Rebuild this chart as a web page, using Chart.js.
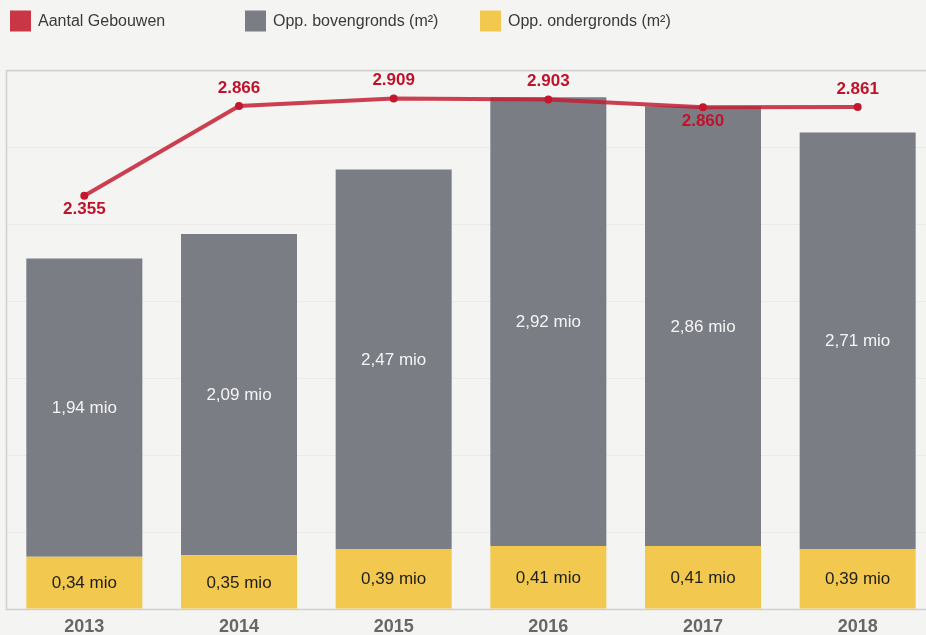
<!DOCTYPE html>
<html>
<head>
<meta charset="utf-8">
<script src="https://cdn.jsdelivr.net/npm/chart.js@4.4.1/dist/chart.umd.min.js"></script>
<style>
  html, body { margin:0; padding:0; background:#f4f4f2; overflow:hidden; width:926px; height:635px; }
  #wrap { position:absolute; left:0; top:0; width:942px; height:645px; }
</style>
</head>
<body>
<div id="wrap"><canvas id="c"></canvas></div>
<script>
const years = ['2013', '2014', '2015', '2016', '2017', '2018'];
const aantalGebouwen = [2355, 2866, 2909, 2903, 2860, 2861];
const oppBovengronds = [1.94, 2.09, 2.47, 2.92, 2.86, 2.71];   // mio m²
const oppOndergronds = [0.34, 0.35, 0.39, 0.41, 0.41, 0.39];   // mio m²
const legendLabels = ['Aantal Gebouwen', 'Opp. bovengronds (m²)', 'Opp. ondergronds (m²)'];

const RED_LINE = 'rgba(196, 30, 52, 0.85)';
const RED_BOX = '#c93746';
const RED_PT = '#c3172d';
const RED_TXT = '#c1122b';
const GREY = '#7b7d85';
const YELLOW = '#f2c94e';
const FONT = "'Liberation Sans', Arial, sans-serif";

function fmtThousands(v) {
  const s = String(Math.round(v));
  return s.replace(/\B(?=(\d{3})+(?!\d))/g, '.');
}
function fmtMio(v) {
  return v.toFixed(2).replace('.', ',') + ' mio';
}

const framePlugin = {
  id: 'frame',
  beforeDraw(chart) {
    const ctx = chart.ctx;
    ctx.save();
    ctx.fillStyle = '#f4f4f2';
    ctx.fillRect(0, 0, chart.width, chart.height);
    ctx.restore();
  },
  beforeDatasetsDraw(chart) {
    const a = chart.chartArea, ctx = chart.ctx;
    ctx.save();
    ctx.strokeStyle = '#cfcfcd';
    ctx.lineWidth = 1.5;
    ctx.strokeRect(a.left - 0.5, a.top - 0.5, a.right - a.left + 1, a.bottom - a.top + 1);
    ctx.restore();
  }
};

const legendPlugin = {
  id: 'fixedLegend',
  afterDraw(chart, args, opts) {
    const ctx = chart.ctx;
    const colors = [RED_BOX, GREY, YELLOW];
    ctx.save();
    ctx.font = '16px ' + FONT;
    ctx.textBaseline = 'middle';
    ctx.textAlign = 'left';
    legendLabels.forEach((lab, i) => {
      const x = opts.x0 + i * opts.colWidth;
      ctx.fillStyle = colors[i];
      ctx.fillRect(x, opts.y - opts.box / 2, opts.box, opts.box);
      ctx.fillStyle = '#3a3a3a';
      ctx.fillText(lab, x + opts.box + 7, opts.y + 1);
    });
    ctx.restore();
  }
};

const labelPlugin = {
  id: 'valueLabels',
  afterDatasetsDraw(chart, args, opts) {
    const ctx = chart.ctx;
    ctx.save();
    ctx.textAlign = 'center';
    ctx.textBaseline = 'middle';
    chart.data.datasets.forEach((ds, di) => {
      const meta = chart.getDatasetMeta(di);
      if (ds.type === 'line') return;
      ctx.font = '17px ' + FONT;
      ctx.fillStyle = ds.labelColor;
      meta.data.forEach((el, i) => {
        const p = el.getProps(['x', 'y', 'base'], true);
        ctx.fillText(fmtMio(ds.data[i]), p.x, (p.y + p.base) / 2 + 1);
      });
    });
    chart.data.datasets.forEach((ds, di) => {
      if (ds.type !== 'line') return;
      const meta = chart.getDatasetMeta(di);
      ctx.font = 'bold 17px ' + FONT;
      ctx.fillStyle = RED_TXT;
      meta.data.forEach((el, i) => {
        const below = opts.below.includes(i);
        const dy = below ? opts.belowOffset : -opts.aboveOffset;
        ctx.fillText(fmtThousands(ds.data[i]), el.x, el.y + dy);
      });
    });
    ctx.restore();
  }
};

new Chart(document.getElementById('c'), {
  data: {
    labels: years,
    datasets: [
      {
        type: 'line',
        label: legendLabels[0],
        data: aantalGebouwen,
        yAxisID: 'y1',
        borderColor: RED_LINE,
        borderWidth: 4,
        pointBackgroundColor: RED_PT,
        pointBorderColor: RED_PT,
        pointRadius: 4,
        pointBorderWidth: 0,
        tension: 0,
        order: 0
      },
      {
        type: 'bar',
        label: legendLabels[2],
        data: oppOndergronds,
        backgroundColor: YELLOW,
        labelColor: '#1e1e1e',
        stack: 's',
        yAxisID: 'y',
        barPercentage: 0.75,
        categoryPercentage: 1.0,
        order: 1
      },
      {
        type: 'bar',
        label: legendLabels[1],
        data: oppBovengronds,
        backgroundColor: GREY,
        labelColor: '#f4f4f4',
        stack: 's',
        yAxisID: 'y',
        barPercentage: 0.75,
        categoryPercentage: 1.0,
        order: 2
      }
    ]
  },
  options: {
    responsive: true,
    maintainAspectRatio: false,
    animation: false,
    devicePixelRatio: 1,
    layout: { padding: { left: 7, right: 7, top: 71, bottom: 0 } },
    plugins: {
      legend: { display: false },
      tooltip: { enabled: false },
      fixedLegend: { x0: 10, colWidth: 235, y: 21, box: 21 },
      valueLabels: { below: [0, 4], belowOffset: 14, aboveOffset: 18 }
    },
    scales: {
      x: {
        stacked: true,
        grid: { display: false, drawTicks: false },
        border: { display: false },
        ticks: {
          color: '#676767',
          font: { family: FONT, size: 18, weight: 'bold', lineHeight: 1 },
          padding: 9
        }
      },
      y: {
        stacked: true,
        min: 0,
        max: 3.5,
        ticks: { display: false, stepSize: 0.5 },
        grid: { color: '#eaeae8', lineWidth: 1, drawTicks: false },
        border: { display: false }
      },
      y1: {
        display: false,
        min: 0,
        max: 3066
      }
    }
  },
  plugins: [framePlugin, legendPlugin, labelPlugin]
});
</script>
</body>
</html>
